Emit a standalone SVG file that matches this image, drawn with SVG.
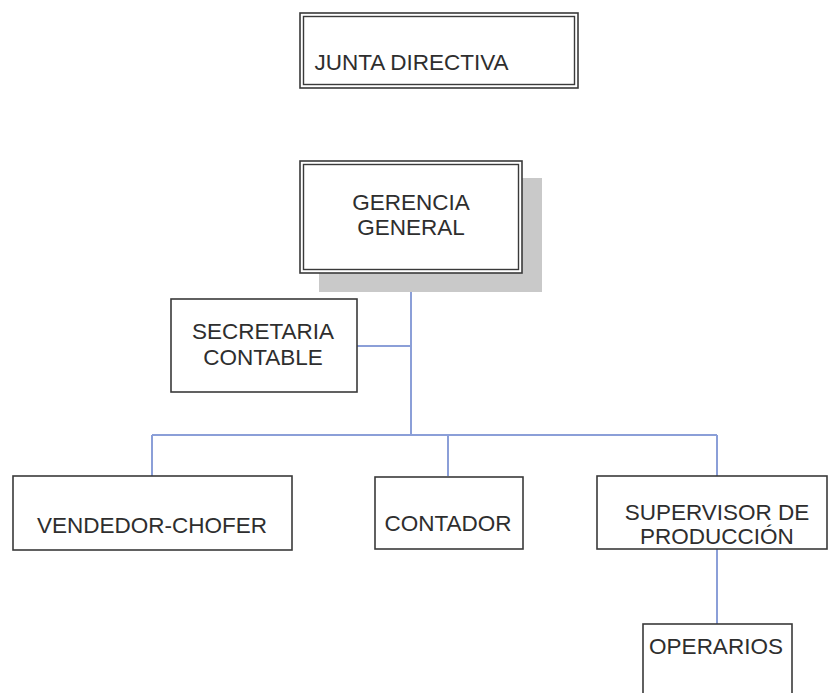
<svg xmlns="http://www.w3.org/2000/svg" width="829" height="693" viewBox="0 0 829 693">
<style>
.box{fill:#fff;stroke:#3a3a3a;stroke-width:1.6}
.in{fill:none;stroke:#3a3a3a;stroke-width:1.4}
.t{font-family:"Liberation Sans",Arial,sans-serif;font-size:22.5px;fill:#2e2e2e;text-anchor:middle}
.c{fill:none;stroke:#8b9fd8;stroke-width:2}
</style>
<rect width="829" height="693" fill="#fff"/>
<g id="connectors">
<path class="c" d="M411 273 V435 M357 346 H411 M152 435 H717 M152 435 V476 M448 435 V476 M717 435 V476 M717 549 V624"/>
</g>
<g id="junta">
<rect class="box" x="300" y="13" width="278" height="75"/>
<rect class="in" x="303.5" y="16.5" width="271" height="68"/>
<text class="t" x="411.5" y="70">JUNTA DIRECTIVA</text>
</g>
<g id="gerencia">
<rect x="319" y="178" width="223" height="114" fill="#c9c9c9"/>
<rect class="box" x="300" y="161" width="222" height="112"/>
<rect class="in" x="303.5" y="164.5" width="215" height="105"/>
<text class="t" x="411" y="210">GERENCIA</text>
<text class="t" x="411" y="235">GENERAL</text>
</g>
<g id="secretaria">
<rect class="box" x="171" y="299" width="186" height="93"/>
<text class="t" x="263" y="339">SECRETARIA</text>
<text class="t" x="263" y="365">CONTABLE</text>
</g>
<g id="vendedor">
<rect class="box" x="13" y="476" width="279" height="74"/>
<text class="t" x="152" y="533">VENDEDOR-CHOFER</text>
</g>
<g id="contador">
<rect class="box" x="375" y="477" width="148" height="72"/>
<text class="t" x="448" y="531">CONTADOR</text>
</g>
<g id="supervisor">
<rect class="box" x="597" y="476" width="230" height="73"/>
<text class="t" x="717" y="520">SUPERVISOR DE</text>
<text class="t" x="717" y="544">PRODUCCIÓN</text>
</g>
<g id="operarios">
<rect class="box" x="643" y="624" width="149" height="80"/>
<text class="t" x="716" y="654">OPERARIOS</text>
</g>
</svg>
